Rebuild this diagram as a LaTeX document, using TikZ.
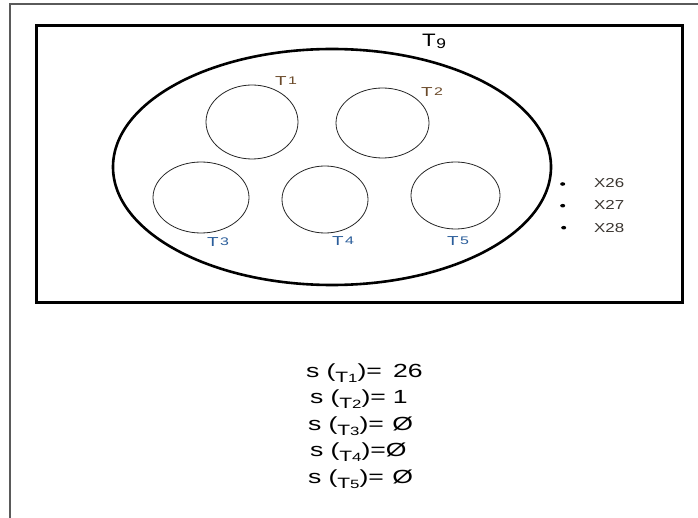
\documentclass[tikz,border=0pt]{standalone}
\usepackage{fontspec}
\setmainfont{Liberation Sans}
\usetikzlibrary{shapes.geometric}

% horizontally widened text
\newcommand{\wide}[2]{\scalebox{#1}[1]{#2}}
% label T with a small raised index
\newcommand{\tlab}[1]{\wide{1.45}{\fontsize{13}{13}\selectfont T\kern1pt\raisebox{1.2pt}{\fontsize{11}{11}\selectfont #1}}}
% lowered T index inside the parentheses
\newcommand{\subT}[1]{\raisebox{-5pt}{\fontsize{15}{15}\selectfont T\fontsize{12}{12}\selectfont #1}}
% one line of the value list
\newcommand{\sline}[2]{\wide{1.4}{\fontsize{19}{19}\selectfont s\hspace{5pt}(\subT{#1})#2}}

\definecolor{framegray}{HTML}{5A5A5A}
\definecolor{tupper}{HTML}{6B4A2A}
\definecolor{tlower}{HTML}{2A5D9A}
\definecolor{xlab}{HTML}{3A3530}

\tikzset{
  subset/.style={draw=black!85, line width=0.8pt, ellipse, inner sep=0pt},
  tlabel/.style={anchor=base west, inner sep=0pt},
  xlabel/.style={anchor=base west, inner sep=0pt, text=xlab},
  element/.style={fill=black, ellipse, inner sep=0pt, minimum width=5pt, minimum height=3.6pt},
  valueline/.style={anchor=base west, inner sep=0pt},
}

\begin{document}
\begin{tikzpicture}[x=1pt, y=-1pt]
\useasboundingbox (0,0) rectangle (698,518);
\fill[white] (0,0) rectangle (698,518);

% page frame
\draw[framegray, line width=1.3pt] (10,518) -- (10,4) -- (698,4);

% universe box
\draw[line width=3pt] (36.5,25.3) rectangle (682,302.5);

% set T9
\draw[line width=2.6pt] (332,167) ellipse [x radius=219pt, y radius=118pt];
\node[tlabel] (l9) at (422,47) {\wide{1.24}{\fontsize{18}{18}\selectfont T\kern0.5pt\raisebox{-2pt}{\fontsize{14}{14}\selectfont 9}}};

% subsets T1 .. T5
\node[subset, minimum width=92pt, minimum height=74pt] (t1) at (252,122) {};
\node[subset, minimum width=93pt, minimum height=70pt] (t2) at (382.5,123) {};
\node[subset, minimum width=96pt, minimum height=71pt] (t3) at (201,197.5) {};
\node[subset, minimum width=86pt, minimum height=67pt] (t4) at (325,199.5) {};
\node[subset, minimum width=89pt, minimum height=67pt] (t5) at (455.5,195.5) {};

\node[tlabel, text=tupper] (l1) at (275,86) {\tlab{1}};
\node[tlabel, text=tupper] (l2) at (421,97) {\tlab{2}};
\node[tlabel, text=tlower] (l3) at (207,247) {\tlab{3}};
\node[tlabel, text=tlower] (l4) at (332,246) {\tlab{4}};
\node[tlabel, text=tlower] (l5) at (447,246) {\tlab{5}};

% elements outside the subsets
\node[element] (e26) at (562.7,184) {};
\node[element] (e27) at (562.7,205.7) {};
\node[element] (e28) at (563.7,227.7) {};
\node[xlabel] (x26) at (594,188) {\wide{1.3}{\fontsize{13}{13}\selectfont X26}};
\node[xlabel] (x27) at (594,209.5) {\wide{1.3}{\fontsize{13}{13}\selectfont X27}};
\node[xlabel] (x28) at (594,233) {\wide{1.3}{\fontsize{13}{13}\selectfont X28}};

% values of s
\node[valueline] (s1) at (306,377) {\sline{1}{=\hspace{8pt}26}};
\node[valueline] (s2) at (310,403.5) {\sline{2}{=\hspace{5pt}1}};
\node[valueline] (s3) at (308,430) {\sline{3}{=\hspace{6pt}Ø}};
\node[valueline] (s4) at (310,456.5) {\sline{4}{=Ø}};
\node[valueline] (s5) at (308,483) {\sline{5}{=\hspace{6pt}Ø}};
\end{tikzpicture}
\end{document}
